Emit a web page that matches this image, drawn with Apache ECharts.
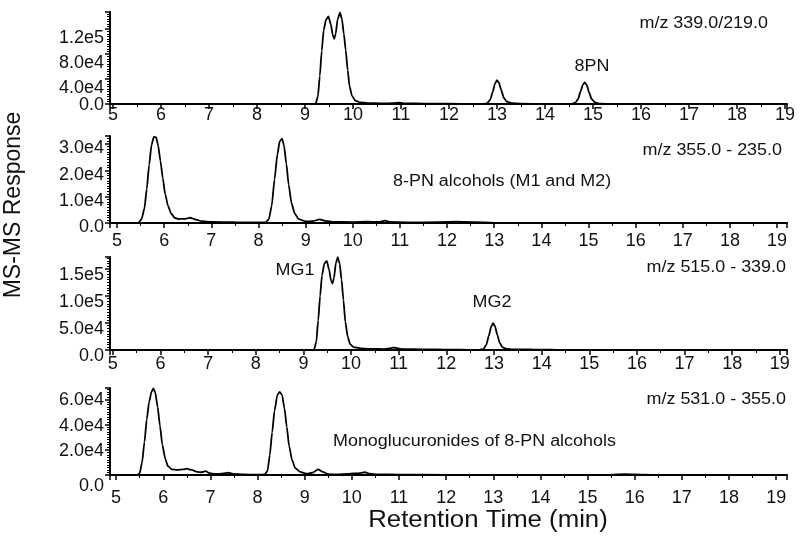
<!DOCTYPE html>
<html>
<head>
<meta charset="utf-8">
<script src="https://cdn.jsdelivr.net/npm/echarts@6/dist/echarts.min.js"></script>
<style>
  html, body { margin: 0; padding: 0; background: #fff; }
  #chart { width: 800px; height: 544px; }
</style>
</head>
<body>
<div id="chart"></div>
<script>
// retention time (min) and response for each MRM trace
const rt339 = [5.0, 9.22, 9.27, 9.31, 9.35, 9.39, 9.44, 9.49, 9.54, 9.58, 9.61, 9.64, 9.68, 9.73, 9.77, 9.81, 9.85, 9.89, 9.93, 9.98, 10.05, 10.15, 10.3, 10.6, 10.85, 10.95, 11.05, 11.5, 12.0, 12.5, 12.72, 12.8, 12.86, 12.91, 12.96, 13.0, 13.04, 13.09, 13.14, 13.2, 13.3, 13.5, 14.0, 14.55, 14.63, 14.69, 14.74, 14.79, 14.83, 14.87, 14.92, 14.97, 15.04, 15.15, 15.4, 16.0, 19.0];
const resp339 = [0, 0, 12000, 45000, 85000, 118000, 135000, 140000, 127000, 110000, 104000, 112000, 135000, 146000, 136000, 112000, 86000, 54000, 28000, 13000, 5500, 2500, 1500, 1000, 1200, 2200, 1000, 600, 400, 200, 0, 1500, 7000, 19000, 33000, 38000, 34000, 22000, 10000, 4000, 1200, 400, 200, 0, 2000, 8000, 20000, 31000, 34500, 30000, 18000, 8000, 2500, 600, 100, 0, 0];

const rt355 = [5.0, 5.45, 5.52, 5.58, 5.63, 5.68, 5.73, 5.78, 5.83, 5.87, 5.92, 5.97, 6.02, 6.08, 6.15, 6.22, 6.3, 6.45, 6.55, 6.65, 6.8, 7.0, 7.5, 7.9, 8.15, 8.22, 8.28, 8.34, 8.4, 8.45, 8.5, 8.54, 8.59, 8.64, 8.7, 8.77, 8.85, 9.0, 9.15, 9.3, 9.42, 9.6, 10.0, 10.3, 10.55, 10.68, 10.8, 11.2, 11.8, 12.2, 12.6, 13.2, 19.0];
const resp355 = [0, 0, 1500, 5500, 13000, 22000, 29500, 32700, 32500, 29500, 23500, 17000, 11000, 6500, 3500, 2000, 1500, 1600, 2000, 1400, 700, 400, 300, 250, 200, 1500, 6500, 16500, 26000, 31000, 32000, 29500, 22500, 14500, 7500, 3500, 1500, 600, 700, 1400, 800, 400, 350, 500, 400, 900, 400, 200, 300, 500, 300, 0, 0];

const rt515 = [5.0, 9.22, 9.27, 9.31, 9.35, 9.39, 9.44, 9.49, 9.54, 9.58, 9.61, 9.64, 9.68, 9.72, 9.76, 9.8, 9.84, 9.88, 9.93, 9.98, 10.05, 10.2, 10.4, 10.7, 10.82, 10.9, 10.98, 11.1, 11.5, 12.0, 12.5, 12.7, 12.78, 12.84, 12.89, 12.94, 12.98, 13.02, 13.07, 13.12, 13.18, 13.26, 13.4, 13.8, 14.1, 14.3, 14.6, 19.0];
const resp515 = [0, 0, 15000, 55000, 100000, 138000, 160000, 165000, 148000, 128000, 123000, 133000, 160000, 171500, 160000, 130000, 92000, 52000, 24000, 11000, 5500, 3000, 2200, 1800, 3000, 4500, 3000, 1500, 1200, 800, 400, 300, 2000, 10000, 26000, 43000, 49500, 44000, 28000, 13000, 5000, 2000, 1200, 900, 800, 200, 0, 0];

const rt531 = [5.0, 5.45, 5.5, 5.55, 5.6, 5.65, 5.7, 5.75, 5.79, 5.83, 5.88, 5.93, 5.98, 6.04, 6.1, 6.18, 6.3, 6.42, 6.5, 6.6, 6.72, 6.82, 6.9, 6.98, 7.1, 7.25, 7.38, 7.5, 7.7, 8.0, 8.15, 8.21, 8.26, 8.31, 8.36, 8.42, 8.47, 8.52, 8.57, 8.62, 8.67, 8.73, 8.8, 8.9, 9.05, 9.18, 9.28, 9.38, 9.5, 9.7, 9.9, 10.05, 10.18, 10.28, 10.38, 10.55, 11.0, 12.0, 15.3, 15.8, 16.2, 16.5, 19.0];
const resp531 = [0, 0, 1500, 10000, 26000, 44000, 58000, 66000, 68700, 65500, 54000, 39000, 24000, 13000, 7000, 4500, 4000, 4500, 5000, 4000, 2500, 2200, 3000, 1500, 800, 1000, 1800, 900, 400, 200, 500, 3000, 16000, 34000, 51000, 63500, 66000, 63500, 53000, 38000, 23000, 12000, 5500, 2500, 1000, 2000, 4500, 2500, 600, 500, 900, 1200, 1500, 2200, 1000, 500, 300, 100, 0, 700, 300, 0, 0];

// y-axis settings per panel
const yMax = [147000, 33000, 172000, 69000];
const yInterval = [40000, 10000, 50000, 20000];

// x extent per panel (axis line runs a little past 5 and 19)
const xMin = [4.94, 4.85, 4.94, 4.87];
const xMax = [19.04, 19.21, 19.15, 19.23];

const traces = [
  [rt339, resp339],
  [rt355, resp355],
  [rt515, resp515],
  [rt531, resp531]
];

const gridTop = [12, 136, 257, 388];
const gridBottom = [440, 321, 194, 69];
const xLabelMargin = [2, 9, 5, 14];
// downward nudge of the y tick labels (px): [non-zero labels, zero label]
const yLabelShift = [[9.5, 1], [4.5, 4.5], [6.5, 6.5], [1, 11]];

const FONT = '"Liberation Sans", Arial, sans-serif';

function fmtTick(v) {
  if (v === 0) return '0.0';
  return v.toExponential(1).replace('e+', 'e');
}

// top-aligned label box of height 2*shift keeps the glyphs centred shift px below the tick
function labelStyle(shift, formatter) {
  return {
    color: '#111',
    fontFamily: FONT,
    fontSize: 18,
    margin: 6,
    verticalAlign: 'top',
    lineHeight: Math.max(2, shift * 2),
    formatter: formatter
  };
}

const grids = [], xAxes = [], yAxes = [], zeroAxes = [], series = [];

for (let i = 0; i < 4; i++) {
  grids.push({ left: 110, right: 13, top: gridTop[i], bottom: gridBottom[i] });

  xAxes.push({
    type: 'value',
    gridIndex: i,
    min: xMin[i],
    max: xMax[i],
    splitNumber: 14,
    axisLine: { lineStyle: { color: '#000', width: 2 } },
    axisTick: { length: 5, lineStyle: { color: '#000', width: 1.5 } },
    minorTick: { show: true, splitNumber: 2, length: 3, lineStyle: { color: '#000', width: 1 } },
    splitLine: { show: false },
    axisLabel: {
      color: '#111',
      fontFamily: FONT,
      fontSize: 18,
      margin: xLabelMargin[i],
      formatter: function (v) {
        return Math.abs(v - Math.round(v)) < 1e-6 ? String(Math.round(v)) : '';
      }
    }
  });

  const interval = yInterval[i];
  const shift = yLabelShift[i];

  // main axis: line, ticks and the non-zero labels
  yAxes.push({
    type: 'value',
    gridIndex: i,
    position: 'left',
    min: 0,
    max: yMax[i],
    interval: interval,
    axisLine: { show: true, lineStyle: { color: '#000', width: 2 } },
    axisTick: { show: true, length: 5, lineStyle: { color: '#000', width: 1.5 } },
    minorTick: { show: true, splitNumber: 10, length: 3, lineStyle: { color: '#000', width: 1 } },
    splitLine: { show: false },
    axisLabel: labelStyle(shift[0], v => (v === 0 || v % interval !== 0 ? '' : fmtTick(v)))
  });

  // companion axis on the same scale carrying only the "0.0" label
  zeroAxes.push({
    type: 'value',
    gridIndex: i,
    position: 'left',
    offset: 0,
    min: 0,
    max: yMax[i],
    interval: interval,
    axisLine: { show: false },
    axisTick: { show: false },
    splitLine: { show: false },
    axisLabel: labelStyle(shift[1], v => (v === 0 ? '0.0' : ''))
  });

  const t = traces[i][0], r = traces[i][1];
  series.push({
    type: 'line',
    xAxisIndex: i,
    yAxisIndex: i,
    data: t.map((x, k) => [x, r[k]]),
    symbol: 'none',
    smooth: 0.2,
    smoothMonotone: 'x',
    lineStyle: { color: '#000', width: 1.8 },
    silent: true
  });
}

function note(text, x, y, align, size) {
  return {
    type: 'text',
    x: x,
    y: y,
    scaleX: 1.12,
    style: {
      text: text,
      font: size + 'px ' + FONT,
      fill: '#111',
      textAlign: align,
      textVerticalAlign: 'middle'
    }
  };
}

const chart = echarts.init(document.getElementById('chart'));
chart.setOption({
  animation: false,
  backgroundColor: '#fff',
  grid: grids,
  xAxis: xAxes,
  yAxis: yAxes.concat(zeroAxes),
  series: series,
  graphic: [
    note('m/z 339.0/219.0', 768, 24, 'right', 16),
    note('8PN', 592, 67, 'center', 16),
    note('m/z 355.0 - 235.0', 782, 151, 'right', 16),
    note('8-PN alcohols (M1 and M2)', 393, 182, 'left', 16),
    note('MG1', 295, 271, 'center', 16),
    note('m/z 515.0 - 339.0', 786, 268, 'right', 16),
    note('MG2', 492, 303, 'center', 16),
    note('m/z 531.0 - 355.0', 786, 400, 'right', 16),
    note('Monoglucuronides of 8-PN alcohols', 333, 442, 'left', 16),
    note('Retention Time (min)', 488, 521, 'center', 23),
    {
      type: 'text',
      x: 14,
      y: 205,
      rotation: Math.PI / 2,
      style: {
        text: 'MS-MS Response',
        font: '23px ' + FONT,
        fill: '#111',
        textAlign: 'center',
        textVerticalAlign: 'middle'
      }
    }
  ]
});
</script>
</body>
</html>
